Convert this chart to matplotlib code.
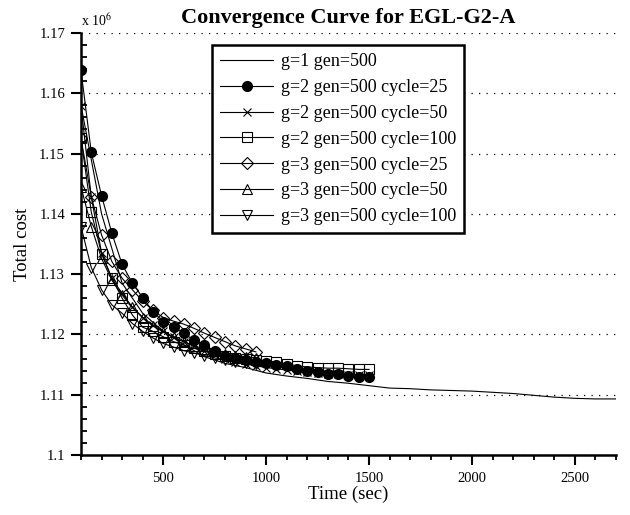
import numpy as np
import matplotlib.pyplot as plt
from matplotlib.ticker import MultipleLocator, FuncFormatter

plt.rcParams['font.family'] = ['Liberation Serif', 'DejaVu Serif']
plt.rcParams['mathtext.fontset'] = 'stix'

# time axes (sec)
t_g1 = [100, 200, 300, 400, 500, 600, 700, 800, 900, 1000, 1100, 1200, 1300, 1400,
        1500, 1600, 1700, 1800, 1900, 2000, 2100, 2200, 2300, 2400, 2500, 2600, 2700]
t_g2 = list(range(100, 1501, 50))
t_g3 = list(range(100, 951, 50))

# total cost, x 10^6
cost_g1 = [1.1580, 1.1400, 1.1285, 1.1235, 1.1205, 1.1183, 1.1163, 1.1152, 1.1145, 1.1136,
           1.1131, 1.1127, 1.1122, 1.1119, 1.1115, 1.1111, 1.1110, 1.1108, 1.1107, 1.1106,
           1.1104, 1.1102, 1.1099, 1.1096, 1.1094, 1.1093, 1.1093]
cost_g2_c25 = [1.1638, 1.1502, 1.1430, 1.1368, 1.1316, 1.1285, 1.1261, 1.1238, 1.1221, 1.1212,
               1.1202, 1.1190, 1.1183, 1.1172, 1.1164, 1.1161, 1.1158, 1.1155, 1.1152, 1.1149,
               1.1147, 1.1143, 1.1140, 1.1138, 1.1135, 1.1134, 1.1131, 1.1130, 1.1130]
cost_g2_c50 = [1.1579, 1.1428, 1.1335, 1.1293, 1.1268, 1.1245, 1.1228, 1.1215, 1.1205, 1.1196,
               1.1188, 1.1180, 1.1173, 1.1166, 1.1160, 1.1155, 1.1151, 1.1148, 1.1145, 1.1143,
               1.1141, 1.1139, 1.1137, 1.1136, 1.1135, 1.1134, 1.1133, 1.1132, 1.1132]
cost_g2_c100 = [1.1525, 1.1403, 1.1334, 1.1293, 1.1260, 1.1232, 1.1212, 1.1205, 1.1196, 1.1188,
                1.1182, 1.1177, 1.1172, 1.1168, 1.1164, 1.1161, 1.1159, 1.1157, 1.1156, 1.1154,
                1.1151, 1.1148, 1.1146, 1.1145, 1.1144, 1.1144, 1.1143, 1.1142, 1.1142]
cost_g3_c25 = [1.1525, 1.1428, 1.1365, 1.1321, 1.1293, 1.1274, 1.1255, 1.1240, 1.1228, 1.1222,
               1.1217, 1.1210, 1.1202, 1.1195, 1.1188, 1.1181, 1.1176, 1.1171]
cost_g3_c50 = [1.1445, 1.1379, 1.1326, 1.1290, 1.1265, 1.1245, 1.1228, 1.1214, 1.1204, 1.1195,
               1.1188, 1.1181, 1.1176, 1.1172, 1.1168, 1.1165, 1.1163, 1.1161]
cost_g3_c100 = [1.1379, 1.1311, 1.1274, 1.1249, 1.1235, 1.1218, 1.1205, 1.1194, 1.1185, 1.1179,
                1.1173, 1.1169, 1.1165, 1.1161, 1.1158, 1.1155, 1.1153, 1.1151]

labels = ['g=1 gen=500', 'g=2 gen=500 cycle=25', 'g=2 gen=500 cycle=50',
          'g=2 gen=500 cycle=100', 'g=3 gen=500 cycle=25', 'g=3 gen=500 cycle=50',
          'g=3 gen=500 cycle=100']

fig = plt.figure(figsize=(6.3, 5.15), dpi=100)
ax = fig.add_axes([81 / 630, 60 / 515, 535 / 630, 422 / 515])

lw = 0.8
ax.plot(t_g1, cost_g1, color='black', lw=lw, label=labels[0])
ax.plot(t_g2, cost_g2_c25, color='black', lw=lw, marker='o', ms=7,
        mfc='black', label=labels[1])
ax.plot(t_g2, cost_g2_c50, color='black', lw=lw, marker='x', ms=6,
        mew=0.8, label=labels[2])
ax.plot(t_g2, cost_g2_c100, color='black', lw=lw, marker='s', ms=6.5,
        mfc='none', mew=0.8, label=labels[3])
ax.plot(t_g3, cost_g3_c25, color='black', lw=lw, marker='D', ms=6,
        mfc='none', mew=0.8, label=labels[4])
ax.plot(t_g3, cost_g3_c50, color='black', lw=lw, marker='^', ms=7,
        mfc='none', mew=0.8, label=labels[5])
ax.plot(t_g3, cost_g3_c100, color='black', lw=lw, marker='v', ms=7,
        mfc='none', mew=0.8, label=labels[6])

ax.set_xlim(100, 2700)
ax.set_ylim(1.1, 1.17)
ax.xaxis.set_major_locator(MultipleLocator(500))
ax.xaxis.set_minor_locator(MultipleLocator(100))
ax.yaxis.set_major_locator(MultipleLocator(0.01))
ax.yaxis.set_minor_locator(MultipleLocator(0.002))
ax.yaxis.set_major_formatter(FuncFormatter(lambda v, p: '%g' % round(v, 4)))

for s in ['top', 'right']:
    ax.spines[s].set_visible(False)
for s in ['left', 'bottom']:
    ax.spines[s].set_linewidth(1.8)

ax.tick_params(axis='x', which='major', direction='out', length=7, width=1.5,
               labelsize=10.5, pad=5)
ax.tick_params(axis='x', which='minor', direction='out', length=3.8, width=1.3)
ax.tick_params(axis='y', which='major', direction='out', length=7, width=1.5,
               labelsize=10.5, pad=4.5)
ax.tick_params(axis='y', which='minor', direction='in', length=4, width=1.3)

ax.yaxis.grid(True, which='major', linestyle=(0, (1, 5)), color='black', lw=0.9)

ax.set_xlabel('Time (sec)', fontsize=13.5, labelpad=1)
ax.set_ylabel('Total cost', fontsize=13.5, labelpad=6)
ax.set_title('Convergence Curve for EGL-G2-A', fontsize=16, fontweight='bold', pad=7)
fig.text(81 / 630, 1 - 26 / 515, r'x 10$^6$', ha='left', va='baseline', fontsize=10)

leg = ax.legend(loc='upper left', bbox_to_anchor=(212 / 630, 1 - 45 / 515),
                bbox_transform=fig.transFigure, borderaxespad=0, fancybox=False,
                edgecolor='black', framealpha=1, fontsize=13, handlelength=2.95,
                handletextpad=0.4, labelspacing=0.49, borderpad=0.45)
leg.get_frame().set_linewidth(1.8)

fig.savefig('out.png', dpi=100)
